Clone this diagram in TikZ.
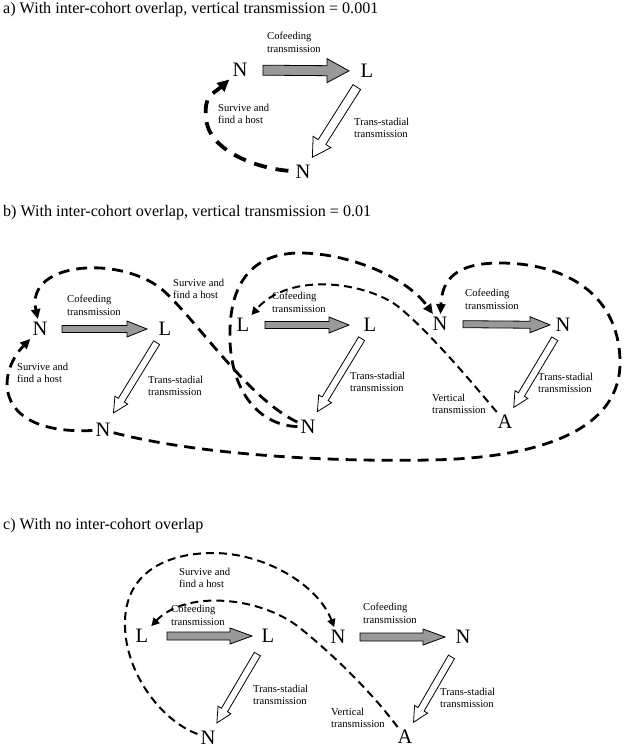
\documentclass[tikz,border=0pt]{standalone}
\usepackage{fontspec}
\setmainfont{Liberation Serif}
\usepackage{tikz}
\usetikzlibrary{arrows.meta, calc}

% block arrow: style, from, to, gap at start, gap at end, half shaft, half head, head length
\newcommand{\blockarrow}[8]{%
  \coordinate (ba-s) at ($(#2)!#4!(#3)$);
  \coordinate (ba-t) at ($(#3)!#5!(#2)$);
  \coordinate (ba-h) at ($(ba-t)!#8!(ba-s)$);
  \draw[#1] ($(ba-s)!#6!90:(ba-t)$) -- ($(ba-h)!#6!-90:(ba-s)$) -- ($(ba-h)!#7!-90:(ba-s)$)
    -- (ba-t) -- ($(ba-h)!#7!90:(ba-s)$) -- ($(ba-h)!#6!90:(ba-s)$) -- ($(ba-s)!#6!-90:(ba-t)$) -- cycle;
}

\begin{document}
\begin{tikzpicture}[
    x=1pt, y=-1pt,
    stage/.style={font=\fontsize{20.5}{20.5}\selectfont, inner sep=3pt},
    note/.style={font=\fontsize{10.6}{12.7}\selectfont, align=left, anchor=north west, inner sep=0pt},
    heading/.style={font=\fontsize{16.1}{18}\selectfont, anchor=base west, inner sep=0pt},
    cofeed/.style={draw=black, line width=0.8pt, fill=black!40},
    stadial/.style={draw=black, line width=0.8pt, fill=white},
    loopa/.style={-{Triangle[length=12pt,width=11pt]}, line width=3.8pt, dash pattern=on 13pt off 9pt, shorten <=4pt},
    loopb/.style={-{Triangle[length=10pt,width=9pt]}, line width=2.8pt, dash pattern=on 11pt off 7pt},
    loopc/.style={-{Triangle[length=8pt,width=8pt]}, line width=2pt, dash pattern=on 8pt off 5pt}
]
\useasboundingbox (0,0) rectangle (626,750);

% a) one cohort
\node[heading] (ta) at (3,13) {a) With inter-cohort overlap, vertical transmission = 0.001};
\node[stage] (na1) at (240,70) {N};
\node[stage] (la) at (367,71) {L};
\node[stage] (na2) at (303,172) {N};
\node[note] (cofa) at (267,31.7) {Cofeeding\\transmission};
\node[note] (tsa) at (354,117.7) {Trans-stadial\\transmission};
\node[note] (sva) at (218,103.7) {Survive and\\find a host};

\blockarrow{cofeed}{na1}{la}{23pt}{18pt}{5pt}{12pt}{22pt}
\blockarrow{stadial}{la}{na2}{19pt}{17.5pt}{4.5pt}{10.5pt}{18pt}
\draw[loopa] (na2) .. controls (255,168) and (208,150) .. (206,118) .. controls (204,95) and (212,95) .. (na1);

% b) overlapping cohorts
\node[heading] (tb) at (3,216) {b) With inter-cohort overlap, vertical transmission = 0.01};
\node[stage] (nb1) at (40,329) {N};
\node[stage] (lb1) at (165,329) {L};
\node[stage] (nb2) at (103,430) {N};
\node[stage] (lb2) at (243,325) {L};
\node[stage] (lb3) at (370,325) {L};
\node[stage] (nb3) at (308,427) {N};
\node[stage] (nb4) at (440,324) {N};
\node[stage] (nb5) at (563,325) {N};
\node[stage] (ab) at (505,422) {A};
\node[note] (cofb1) at (67,294.7) {Cofeeding\\transmission};
\node[note] (tsb1) at (148,375.7) {Trans-stadial\\transmission};
\node[note] (svb1) at (17,362.7) {Survive and\\find a host};
\node[note] (svb2) at (173,278.7) {Survive and\\find a host};
\node[note] (cofb2) at (272,291.7) {Cofeeding\\transmission};
\node[note] (tsb2) at (350,371.7) {Trans-stadial\\transmission};
\node[note] (cofb3) at (465,288.7) {Cofeeding\\transmission};
\node[note] (tsb3) at (538,372.7) {Trans-stadial\\transmission};
\node[note] (vtb) at (432,393.7) {Vertical\\transmission};

\blockarrow{cofeed}{nb1}{lb1}{22pt}{18pt}{3.5pt}{8pt}{20pt}
\blockarrow{cofeed}{lb2}{lb3}{22pt}{21pt}{3.5pt}{8pt}{20pt}
\blockarrow{cofeed}{nb4}{nb5}{23pt}{13pt}{3.5pt}{8pt}{20pt}
\blockarrow{stadial}{lb1}{nb2}{16pt}{20pt}{3.5pt}{7.5pt}{15pt}
\blockarrow{stadial}{lb3}{nb3}{16pt}{18pt}{3.5pt}{7.5pt}{15pt}
\blockarrow{stadial}{nb5}{ab}{16pt}{17pt}{3.5pt}{7.5pt}{15pt}

\draw[loopb] (nb2) .. controls (-5,435) and (-5,375) .. (nb1);
\draw[loopb] (nb3) .. controls (250,400) and (200,325) .. (165,292) .. controls (125,255) and (25,260) .. (nb1);
\draw[loopb] (nb3) .. controls (255,425) and (228,385) .. (230,330) .. controls (231,280) and (255,253) .. (300,253)
  .. controls (345,253) and (405,275) .. (nb4);
\draw[loopb] (nb2) .. controls (200,455) and (330,462) .. (430,460) .. controls (540,458) and (622,430) .. (620,360)
  .. controls (618,290) and (560,263) .. (500,263) .. controls (455,263) and (442,280) .. (nb4);
\draw[loopc] (ab) .. controls (470,380) and (430,333) .. (400,308) .. controls (370,283) and (290,270) .. (lb2);

% c) no overlap
\node[heading] (tc) at (3,529) {c) With no inter-cohort overlap};
\node[stage] (lc1) at (142,636) {L};
\node[stage] (lc2) at (268,636) {L};
\node[stage] (nc1) at (338,637) {N};
\node[stage] (nc2) at (463,637) {N};
\node[stage] (nc3) at (208,738) {N};
\node[stage] (ac) at (405,737) {A};
\node[note] (svc) at (179,567.7) {Survive and\\find a host};
\node[note] (cofc1) at (171,604.7) {Cofeeding\\transmission};
\node[note] (tsc1) at (253,684.7) {Trans-stadial\\transmission};
\node[note] (cofc2) at (363,602.7) {Cofeeding\\transmission};
\node[note] (tsc2) at (440,687.7) {Trans-stadial\\transmission};
\node[note] (vtc) at (331,707.7) {Vertical\\transmission};

\blockarrow{cofeed}{lc1}{lc2}{25pt}{16pt}{4pt}{8pt}{22pt}
\blockarrow{cofeed}{nc1}{nc2}{22pt}{18pt}{4pt}{8pt}{22pt}
\blockarrow{stadial}{lc2}{nc3}{21pt}{17.5pt}{3.5pt}{7.5pt}{15pt}
\blockarrow{stadial}{nc2}{ac}{23pt}{17pt}{3.5pt}{7.5pt}{15pt}

\draw[loopc] (nc3) .. controls (160,720) and (123,670) .. (125,620) .. controls (127,570) and (170,553) .. (213,553)
  .. controls (265,553) and (318,585) .. (nc1);
\draw[loopc] (ac) .. controls (370,690) and (330,652) .. (300,628) .. controls (260,596) and (185,590) .. (lc1);
\end{tikzpicture}
\end{document}
